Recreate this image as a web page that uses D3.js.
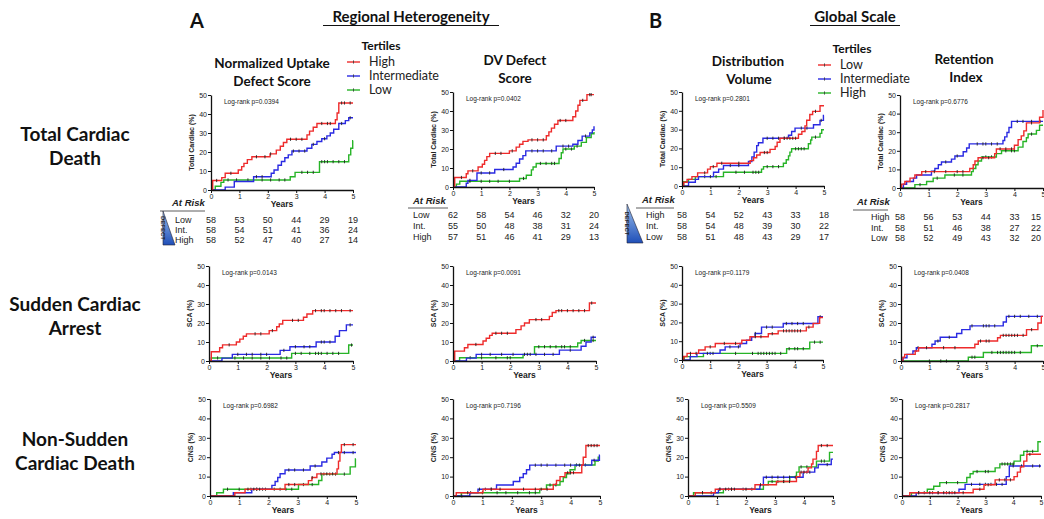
<!DOCTYPE html>
<html>
<head>
<meta charset="utf-8">
<style>
  body { margin: 0; background: #fff; }
  .tick text { font-family: "Liberation Sans", Arial, sans-serif; font-size: 7px; fill: #222; }
  .hdr { font-family: Lato, "Open Sans", sans-serif; font-weight: bold; fill: #111; }
  .lbl { font-family: "Liberation Sans", Arial, sans-serif; fill: #222; }
</style>
<script src="https://cdn.jsdelivr.net/npm/d3@7"></script>
</head>
<body>
<svg id="fig" width="1044" height="519"></svg>
<script>
// ---- step data [years, %] ----
// row 1: total cardiac death
var tcNudsHigh = [[0.06,5],[0.38,6.5],[0.5,8.8],[0.96,10.5],[1.08,12.3],[1.16,14],[1.28,16],[1.44,17.5],[2.08,19],[2.3,21],[2.44,23],[2.55,25],[2.67,26.7],[3.38,29],[3.47,31],[3.6,33],[3.73,35],[4.38,37],[4.44,40.5],[4.5,45.8],[5,45.8]];
var tcNudsInt = [[0.5,1.5],[0.82,4.5],[1.5,7],[2.12,8.8],[2.22,10.5],[2.36,13],[2.48,15],[2.6,17],[2.72,18.5],[2.85,20.5],[3.38,22],[3.55,24],[3.73,25.5],[3.9,27],[4.08,28.5],[4.2,30],[4.32,32],[4.5,35],[4.73,36.5],[4.85,38],[5,38]];
var tcNudsLow = [[0.15,2],[0.35,4],[0.45,5.3],[2.79,7],[2.96,9.3],[3.82,14.9],[4.85,18.5],[4.92,22],[4.99,26],[5,26]];
var tcDvHigh = [[0.06,5],[0.47,7],[0.53,8.5],[0.89,10.5],[1.04,12],[1.12,14],[1.2,16],[1.3,17.7],[2.0,19],[2.24,21],[2.36,22.5],[2.48,24],[2.66,24.8],[3.31,27],[3.4,29],[3.49,31],[3.6,33],[3.72,35],[4.25,37],[4.35,40],[4.43,43],[4.5,45.6],[4.75,48.6],[5,48.6]];
var tcDvInt = [[0.47,2],[0.53,3.5],[0.85,7.4],[1.48,9.2],[2.13,10.5],[2.24,12.5],[2.36,14.7],[2.48,16.5],[2.58,19],[3.66,21.5],[4.25,22.5],[4.43,24.5],[4.58,26.8],[4.85,28.5],[4.94,30],[5,32]];
var tcDvLow = [[0.12,1.5],[0.24,3],[2.36,4.5],[2.6,6.2],[2.78,9],[2.84,10.5],[2.95,12.4],[3.76,15],[3.84,18],[3.9,20],[4.3,21.5],[4.55,23.5],[4.73,26],[4.9,28],[5,29]];
var tcDvgLow = [[0.06,2],[0.18,3.5],[0.35,5],[0.55,7],[0.9,9],[1.0,10.3],[1.23,12.1],[2.4,13.5],[2.52,15],[2.63,16.5],[2.75,17.8],[3.1,19.5],[3.28,21],[3.35,23.3],[3.45,25.4],[4.1,27.5],[4.22,29],[4.33,32],[4.39,35],[4.5,38],[4.6,39.7],[4.86,42.7],[5,42.7]];
var tcDvgInt = [[0.23,2],[0.47,3.5],[0.58,5],[1.11,7.3],[1.29,9],[1.46,10.9],[2.34,13],[2.46,15.5],[2.54,18],[2.63,21.5],[2.69,23],[2.85,25.4],[3.75,27],[3.86,29],[3.98,30.8],[4.63,32.6],[4.86,34.9],[4.98,37.5],[5,37.5]];
var tcDvgHigh = [[0.06,2.3],[0.23,3.5],[0.47,5],[1.46,7.3],[2.8,9],[2.87,10.3],[3.57,12.1],[3.67,14],[3.75,16],[3.8,18],[3.86,19.8],[4.45,22.5],[4.53,24.5],[4.57,26],[4.86,28],[4.92,29.9],[5,29.9]];
var tcRiLow = [[0.06,2.1],[0.17,3.5],[0.35,5.3],[0.52,7],[0.76,8.8],[2.44,10.5],[2.56,12.5],[2.62,14.5],[2.73,16.3],[3.31,18.5],[3.37,21],[4.0,23],[4.13,26],[4.24,28],[4.33,30.7],[4.42,35],[4.88,38],[5,42]];
var tcRiInt = [[0.12,2],[0.23,3.5],[0.47,5.3],[0.58,7],[1.1,9],[1.22,10.5],[1.34,12.5],[1.45,14],[1.8,15.5],[1.92,17.2],[2.21,19.5],[2.33,21.5],[2.42,23.7],[3.6,25.5],[3.66,27.5],[3.74,29.8],[3.81,32.5],[3.9,35.8],[5,35.8]];
var tcRiHigh = [[0.52,1.8],[0.93,3.5],[1.16,5.3],[1.57,7],[2.5,8.8],[2.56,10.5],[2.65,12.5],[2.73,14.5],[2.85,16.7],[3.37,18.5],[3.55,20],[4.13,22],[4.3,25],[4.42,27],[4.48,29],[4.77,31],[4.88,33.7],[5,33.7]];
// row 2: sudden cardiac arrest
var scaNudsHigh = [[0.08,4.9],[0.37,7],[0.47,8.5],[0.95,10],[1.07,11.5],[1.19,13],[1.3,14.3],[2.09,16],[2.35,18],[2.44,19.5],[2.56,21.4],[3.28,23],[3.4,24.7],[3.6,26.5],[5,26.5]];
var scaNudsInt = [[0.45,1.5],[0.81,3.5],[2.47,5.6],[2.81,7.5],[3.72,10],[4.38,13],[4.53,16],[4.77,19],[5,19]];
var scaNudsLow = [[0.08,1.6],[2.87,4],[4.85,8.4],[5,8.4]];
var scaDvHigh = [[0.06,5.2],[0.4,7],[0.52,8.7],[1.05,10.5],[1.16,12],[1.28,13.5],[1.37,14.6],[2.2,16.5],[2.38,18.5],[2.5,20],[2.67,21.8],[3.37,23.5],[3.47,25.5],[3.6,26.5],[4.77,30.5],[5,30.5]];
var scaDvInt = [[0.47,1.5],[0.81,3.5],[3.72,5.7],[4.48,7.8],[4.65,10],[4.83,12.5],[5,12.5]];
var scaDvLow = [[0.23,1.7],[2.45,3.5],[2.85,7.5],[4.36,9.5],[4.48,10.8],[5,10.8]];
var scaDvgLow = [[0.06,1.9],[0.18,3.5],[0.59,5.3],[0.82,7],[1.18,8.8],[2.12,10.5],[2.41,12.4],[3.06,14],[3.41,15.5],[4.41,17.5],[4.65,19.5],[4.88,22.6],[5,22.6]];
var scaDvgInt = [[0.29,1.8],[0.53,3.5],[1.35,5.3],[1.53,7],[2.06,8.8],[2.29,10.5],[2.47,12.3],[2.59,14.1],[2.82,17.5],[3.59,19.4],[4.82,23],[5,23]];
var scaDvgHigh = [[0.08,1.8],[0.76,3.5],[3.71,6],[4.53,9.5],[5,9.5]];
var scaRiLow = [[0.07,2],[0.13,3.5],[0.5,5.3],[0.62,7],[2.6,8.8],[2.72,10.5],[3.4,12.2],[3.5,13.5],[4.42,16.5],[4.82,20],[4.94,23.5],[5,23.5]];
var scaRiInt = [[0.07,1.7],[0.21,3.5],[0.42,5.3],[0.54,7],[1.09,8.8],[1.2,10.5],[1.38,12.5],[1.96,14.5],[2.14,16.5],[2.43,18.5],[3.6,20.5],[3.71,23.5],[5,23.5]];
var scaRiHigh = [[2.37,2],[2.9,4.5],[4.59,8],[5,8]];
// row 3: non-sudden cardiac death
var cnsNudsHigh = [[0.85,1.7],[1.2,3.5],[2.57,5.9],[3.37,7.9],[3.49,9.5],[3.66,11.4],[4.35,14],[4.4,18],[4.45,22.5],[4.5,26.5],[5,26.5]];
var cnsNudsInt = [[0.8,1.7],[1.43,3.5],[2.12,5.5],[2.23,7.5],[2.32,9.5],[2.4,11.5],[2.57,13.4],[3.43,15.5],[3.83,17.5],[4.0,19.5],[4.18,21.5],[4.26,22.4],[5,22.4]];
var cnsNudsLow = [[0.23,1.7],[0.46,3.5],[3.03,5.9],[3.72,8],[3.83,11.3],[4.8,15],[4.98,19.1],[5,19.1]];
var cnsDvHigh = [[0.11,1.7],[1.02,3.5],[3.41,6],[3.52,8],[3.64,10],[3.81,12],[4.38,16],[4.43,20],[4.52,26],[5,26]];
var cnsDvInt = [[0.57,1.7],[0.85,3.5],[1.48,5.7],[2.05,7.5],[2.27,9.5],[2.39,11.5],[2.5,13.5],[2.61,15.9],[4.72,18.4],[4.98,21],[5,21]];
var cnsDvLow = [[0.28,1.7],[2.95,3.5],[3.18,5.7],[3.64,7.5],[3.75,9.5],[3.86,11.5],[3.98,13.5],[4.15,16],[4.83,18],[4.94,20],[5,20]];
var cnsDvgLow = [[0.25,1.7],[0.94,3.5],[2.31,5.8],[3.05,7.5],[3.74,10],[3.86,12.3],[4.14,14.5],[4.26,16.5],[4.31,19],[4.43,23],[4.49,26],[5,26]];
var cnsDvgInt = [[0.88,1.7],[1.05,3.5],[2.48,5.8],[2.6,9.7],[3.97,12.3],[4.37,14.5],[4.49,16.2],[4.94,19],[5,19]];
var cnsDvgHigh = [[0.19,1.7],[1.22,3.5],[2.6,5.8],[2.77,7.5],[3.51,10],[3.74,12.3],[3.83,15],[4.43,18],[4.88,22.5],[5,22.5]];
var cnsRiLow = [[0.28,1.7],[2.56,3.5],[2.95,5.8],[3.35,8.3],[4.03,10],[4.15,12.3],[4.26,15],[4.38,18],[4.49,21.5],[5,21.5]];
var cnsRiInt = [[0.51,1.7],[2.05,3.5],[2.27,6],[3.75,10],[3.86,15.5],[5,15.5]];
var cnsRiHigh = [[0.34,1.7],[0.91,3.5],[1.14,5],[1.36,6.9],[2.33,9.5],[2.45,11.5],[2.56,12.6],[3.35,14.5],[3.52,16.5],[4.03,18],[4.26,21],[4.38,23],[4.89,28],[5,28]];

// censor times (years), one list per curve, in the same order as above
var censTimes = [
  [0.2,0.7,1.6,1.9,2.1,2.8,3.0,3.2,3.9,4.1,4.2,4.6,4.7,4.9],
  [1.6,1.8,2.9,3.1,3.3,3.6,4.0,4.6,4.9],
  [0.6,0.9,1.3,1.8,2.1,2.4,2.6,3.2,3.4,3.6,3.9,4.0,4.1,4.3,4.5,4.7],
  [0.3,0.7,1.5,1.7,2.1,2.8,3.0,3.2,3.8,4.0,4.6,4.85,4.9],
  [0.6,1.0,1.3,1.8,2.8,3.0,3.2,3.5,3.9,4.1,4.7],
  [0.6,1.0,1.3,1.6,2.0,2.5,3.1,3.3,3.5,3.6,4.0,4.2,4.4],
  [0.8,1.1,1.4,2.0,2.9,3.0,3.6,3.7,3.8,3.9,4.0,4.7],
  [1.0,1.7,2.0,3.0,3.2,3.4,3.6,4.2,4.4,4.9],
  [0.8,1.2,1.9,2.2,2.5,2.6,2.7,3.0,3.2,3.4,4.0,4.1,4.2,4.3,4.7],
  [0.9,1.2,1.6,2.0,2.2,2.9,3.1,3.5,3.7,3.9,4.6],
  [1.6,2.0,2.7,2.9,3.0,3.2,3.4,4.1,4.3,4.6,4.9],
  [0.7,1.3,1.9,2.2,3.0,3.2,3.7,3.9,4.0,4.6],
  [0.7,1.6,1.8,2.2,2.9,3.1,3.7,3.9,4.0,4.2,4.4,4.6,4.9],
  [1.0,1.3,1.5,1.8,2.0,2.6,3.0,3.3,3.5,3.9,4.0,4.2,4.9],
  [0.3,0.9,1.2,1.5,1.8,2.1,2.5,2.7,3.0,3.2,3.5,3.7,3.8,3.9,4.1,4.3,4.5,4.95],
  [0.8,1.5,1.7,1.9,2.9,3.1,3.7,3.8,4.0,4.2,4.4,4.6,4.85],
  [1.0,1.3,1.7,2.1,2.5,2.6,2.7,2.9,3.2,3.5,4.1,4.9],
  [0.6,1.0,1.5,1.9,2.0,3.0,3.2,3.4,3.6,3.8,3.9,4.1,4.6,4.9],
  [0.3,0.5,1.0,1.5,1.9,2.6,2.8,3.2,3.6,3.7,3.8,3.9,4.0,4.1,4.2,4.5],
  [0.9,1.1,1.7,2.0,2.6,3.0,3.2,3.7,3.9,4.1,4.3,4.9],
  [0.3,1.0,1.9,2.5,2.7,2.8,2.9,3.0,3.1,3.2,3.3,3.5,3.8,4.0,4.1,4.3,4.7,4.9],
  [0.9,1.5,1.9,2.8,3.0,3.1,3.6,3.7,3.8,3.9,4.0,4.1,4.3,4.6],
  [0.6,1.3,1.7,2.5,2.9,3.0,3.1,3.3,3.8,4.0,4.2,4.5,4.8],
  [1.0,1.4,1.6,2.5,2.6,3.2,3.4,3.5,3.6,3.7,3.8,3.9,4.0,4.2,4.8],
  [1.3,1.5,1.7,2.7,2.9,3.5,3.8,4.0,4.2,4.6,4.9],
  [1.6,1.9,2.7,2.9,3.2,3.6,4.4,4.6,4.9],
  [0.6,1.0,1.4,1.6,1.8,2.2,2.4,2.6,2.8,3.2,3.5,3.9,4.1,4.3,4.6],
  [0.5,1.3,1.6,2.4,2.8,3.0,3.2,3.9,4.0,4.1,4.6,4.7,4.8,4.9],
  [0.3,0.9,1.1,1.3,2.8,3.0,3.2,3.5,3.8,4.0,4.3,4.8],
  [0.6,1.0,1.5,1.8,2.2,2.6,2.8,3.3,3.5,4.2,4.5],
  [0.5,1.1,1.3,1.5,1.6,2.0,2.5,3.3,3.5,3.9,4.0,4.6,4.8],
  [1.1,1.4,2.7,2.9,3.1,3.3,3.5,3.7,4.1,4.2,4.8],
  [0.5,0.8,1.5,1.9,2.2,2.9,3.1,3.3,3.9,4.1,4.6,4.7],
  [0.6,1.0,1.3,1.5,1.7,1.9,2.2,2.8,3.1,3.5,3.7,3.9,4.6],
  [0.8,1.1,1.3,1.6,1.8,2.5,2.8,3.0,3.2,3.4,3.6,4.0,4.3,4.7,4.95],
  [0.6,1.6,2.0,2.7,3.0,3.1,3.6,3.7,3.8,3.9,4.0,4.5,4.7]
];

// numbers at risk at 0..5 years
var riskNudsLow = [58,53,50,44,29,19], riskNudsInt = [58,54,51,41,36,24], riskNudsHigh = [58,52,47,40,27,14];
var riskDvLow = [62,58,54,46,32,20], riskDvInt = [55,50,48,38,31,24], riskDvHigh = [57,51,46,41,29,13];
var riskDvgHigh = [58,54,52,43,33,18], riskDvgInt = [58,54,48,39,30,22], riskDvgLow = [58,51,48,43,29,17];
var riskRiHigh = [58,56,53,44,33,15], riskRiInt = [58,51,46,38,27,22], riskRiLow = [58,52,49,43,32,20];

var pValues = ["0.0394","0.0402","0.2801","0.6776","0.0143","0.0091","0.1179","0.0408","0.6982","0.7196","0.5509","0.2817"];
var rowTitles = [["Total Cardiac","Death"],["Sudden Cardiac","Arrest"],["Non-Sudden","Cardiac Death"]];
var yTitles = ["Total Cardiac (%)","SCA (%)","C/NS (%)"];
var legendA = ["High","Intermediate","Low"], legendB = ["Low","Intermediate","High"];

var red = "#ee2b2b", blue = "#2a2ae2", green = "#27b427";
var colors = [red, blue, green];

var curveSets = [
  [tcNudsHigh,tcNudsInt,tcNudsLow],[tcDvHigh,tcDvInt,tcDvLow],[tcDvgLow,tcDvgInt,tcDvgHigh],[tcRiLow,tcRiInt,tcRiHigh],
  [scaNudsHigh,scaNudsInt,scaNudsLow],[scaDvHigh,scaDvInt,scaDvLow],[scaDvgLow,scaDvgInt,scaDvgHigh],[scaRiLow,scaRiInt,scaRiHigh],
  [cnsNudsHigh,cnsNudsInt,cnsNudsLow],[cnsDvHigh,cnsDvInt,cnsDvLow],[cnsDvgLow,cnsDvgInt,cnsDvgHigh],[cnsRiLow,cnsRiInt,cnsRiHigh]
];

// panel frames: x of y-axis, y of x-axis, width, height
var frames = [
  [211,190,142,95],[453,187,141,95],[682,186,142,94],[900,188,143,93],
  [209,361,144,95],[453,361,143,95],[682,360,141,94],[901,361,142,95],
  [210,496,146,97],[453,496,147,97],[688,496,145,97],[902,496,139,97]
];

var svg = d3.select("#fig");
svg.append("rect").attr("width",1044).attr("height",519).attr("fill","#fff");

function valAt(steps, t) {
  var v = 0;
  steps.forEach(function(s){ if (s[0] <= t) v = s[1]; });
  return v;
}

var scales = [];
frames.forEach(function(f, i) {
  var x = d3.scaleLinear().domain([0,5]).range([f[0], f[0]+f[2]]);
  var y = d3.scaleLinear().domain([0,50]).range([f[1], f[1]-f[3]]);
  scales.push(x);
  var g = svg.append("g");

  var line = d3.line().x(function(d){ return x(d[0]); }).y(function(d){ return y(d[1]); }).curve(d3.curveStepAfter);
  // draw green first, red last
  [2,1,0].forEach(function(k) {
    var steps = curveSets[i][k];
    g.append("path")
      .attr("d", line([[0,0]].concat(steps)))
      .attr("fill","none").attr("stroke", colors[k]).attr("stroke-width",1.4);
    g.selectAll(null).data(censTimes[i*3+k]).enter().append("line")
      .attr("x1", function(t){ return x(t); }).attr("x2", function(t){ return x(t); })
      .attr("y1", function(t){ return y(valAt(steps,t)) - 1.6; })
      .attr("y2", function(t){ return y(valAt(steps,t)) + 1.6; })
      .attr("stroke","#222").attr("stroke-width",0.9);
  });

  var ya = g.append("g").attr("transform","translate(" + f[0] + ",0)")
    .call(d3.axisLeft(y).tickValues([0,10,20,30,40,50]).tickSize(3).tickSizeOuter(0).tickPadding(1));
  var xa = g.append("g").attr("transform","translate(0," + f[1] + ")")
    .call(d3.axisBottom(x).tickValues([0,1,2,3,4,5]).tickFormat(d3.format("d")).tickSize(3).tickSizeOuter(0).tickPadding(1));
  [ya, xa].forEach(function(a){
    a.select(".domain").attr("stroke","#111").attr("stroke-width",1.3);
    a.selectAll(".tick line").attr("stroke","#111").attr("stroke-width",1);
  });

  g.append("text").attr("class","lbl").attr("x", f[0]+f[2]/2).attr("y", f[1]+17)
    .attr("text-anchor","middle").attr("font-size",8.5).attr("font-weight","bold").text("Years");
  g.append("text").attr("class","lbl")
    .attr("transform","translate(" + (f[0]-17) + "," + (f[1]-f[3]/2) + ") rotate(-90)")
    .attr("text-anchor","middle").attr("font-size",7).attr("font-weight","bold").text(yTitles[Math.floor(i/4)]);
  g.append("text").attr("class","lbl").attr("x", f[0]+13).attr("y", f[1]-f[3]+9)
    .attr("font-size",6.5).text("Log-rank p=" + pValues[i]);
});

// ---- at-risk tables ----
var tables = [
  {panel:0, labX:175, atX:172, atY:206, ul:[160,205,211], ys:[223,233,243], rows:[["Low",riskNudsLow],["Int.",riskNudsInt],["High",riskNudsHigh]]},
  {panel:1, labX:413, atX:413, atY:204, ul:[408,448,208], ys:[218,229,240], rows:[["Low",riskDvLow],["Int.",riskDvInt],["High",riskDvHigh]]},
  {panel:2, labX:646, atX:642, atY:203, ul:[636,674,208], ys:[218,229,240], rows:[["High",riskDvgHigh],["Int.",riskDvgInt],["Low",riskDvgLow]]},
  {panel:3, labX:871, atX:857, atY:205, ul:[853,888,210], ys:[220,231,241], rows:[["High",riskRiHigh],["Int.",riskRiInt],["Low",riskRiLow]]}
];
tables.forEach(function(tb) {
  var x = scales[tb.panel];
  svg.append("text").attr("class","lbl").attr("x", tb.atX).attr("y", tb.atY)
    .attr("font-size",9.5).attr("font-weight","bold").attr("font-style","italic").text("At Risk");
  svg.append("line").attr("x1", tb.ul[0]).attr("x2", tb.ul[1]).attr("y1", tb.ul[2]).attr("y2", tb.ul[2])
    .attr("stroke","#333").attr("stroke-width",0.8);
  tb.rows.forEach(function(r, j) {
    svg.append("text").attr("class","lbl").attr("x", tb.labX).attr("y", tb.ys[j])
      .attr("font-size",9).attr("fill","#444").text(r[0]);
    svg.selectAll(null).data(r[1]).enter().append("text").attr("class","lbl")
      .attr("x", function(d, k){ return Math.min(x(k), 1036); }).attr("y", tb.ys[j])
      .attr("text-anchor","middle").attr("font-size",9).attr("fill","#444")
      .text(function(d){ return d; });
  });
});

// DEFECT wedges beside two tables
var grad = svg.append("defs").append("linearGradient").attr("id","wedge").attr("x1",0).attr("y1",0).attr("x2",0).attr("y2",1);
grad.append("stop").attr("offset","0%").attr("stop-color","#9fc3ee");
grad.append("stop").attr("offset","100%").attr("stop-color","#1f4fb8");
[[163,211,245,175],[627,204,243,643]].forEach(function(w) {
  svg.append("path").attr("d","M" + w[0] + "," + w[1] + "L" + w[0] + "," + w[2] + "L" + w[3] + "," + w[2] + "Z")
    .attr("fill","url(#wedge)").attr("stroke","#223").attr("stroke-width",0.6);
  svg.append("text").attr("class","lbl")
    .attr("transform","translate(" + (w[0]-2) + "," + ((w[1]+w[2])/2) + ") rotate(90)")
    .attr("text-anchor","middle").attr("font-size",6).attr("font-weight","bold").text("DEFECT");
});

// ---- headings ----
function hdr(x, y, size, txt, anchor) {
  return svg.append("text").attr("class","hdr").attr("x",x).attr("y",y)
    .attr("font-size",size).attr("text-anchor",anchor || "middle").text(txt);
}
hdr(190, 28, 20, "A", "start");
hdr(649, 28, 20, "B", "start");
hdr(411, 22, 15, "Regional Heterogeneity");
svg.append("line").attr("x1",323).attr("x2",499).attr("y1",25.5).attr("y2",25.5).attr("stroke","#111").attr("stroke-width",1.1);
hdr(855, 22, 15, "Global Scale");
svg.append("line").attr("x1",810).attr("x2",900).attr("y1",25.5).attr("y2",25.5).attr("stroke","#111").attr("stroke-width",1.1);

hdr(272, 68, 13.5, "Normalized Uptake");
hdr(272, 86, 13.5, "Defect Score");
hdr(515, 65, 13.5, "DV Defect");
hdr(515, 83, 13.5, "Score");
hdr(748, 66, 13.5, "Distribution");
hdr(749, 84, 13.5, "Volume");
hdr(964, 64, 13.5, "Retention");
hdr(966, 82, 13.5, "Index");

// legends
function legend(x0, y0, names, title, tx) {
  hdr(tx, y0 - 12, 12, title);
  names.forEach(function(n, j) {
    var yy = y0 + j*14;
    svg.append("line").attr("x1",x0).attr("x2",x0+13).attr("y1",yy).attr("y2",yy)
      .attr("stroke", colors[j]).attr("stroke-width",1.4);
    svg.append("line").attr("x1",x0+6.5).attr("x2",x0+6.5).attr("y1",yy-1.6).attr("y2",yy+1.6)
      .attr("stroke","#333").attr("stroke-width",0.8);
    svg.append("text").attr("x",x0+22).attr("y",yy+4)
      .attr("font-family","Lato, 'Open Sans', sans-serif").attr("font-size",12.5).attr("fill","#222").text(n);
  });
}
legend(347, 62, legendA, "Tertiles", 381);
legend(818, 65, legendB, "Tertiles", 852);

// row titles
var rowY = [141, 311, 446];
rowTitles.forEach(function(r, i) {
  hdr(75, rowY[i], 19, r[0]);
  hdr(75, rowY[i]+24, 19, r[1]);
});
</script>
</body>
</html>
